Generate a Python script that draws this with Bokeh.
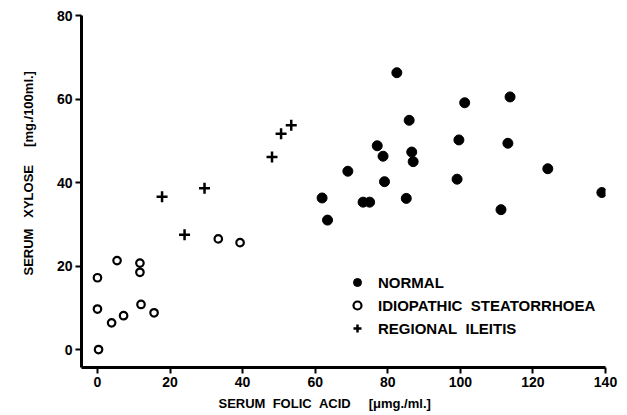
from bokeh.plotting import figure
from bokeh.models import Legend, LegendItem, Range1d, FixedTicker, Title
from bokeh.embed import file_html
from bokeh.resources import INLINE

# Serum folic acid (µmg./ml.) vs serum xylose (mg./100ml.)
normal_x = [82.5, 85.9, 77.1, 78.7, 86.6, 87.0, 69.0, 79.1, 61.9, 73.2, 75.0,
            85.1, 63.4, 101.2, 113.7, 99.6, 113.1, 124.1, 99.1, 139.0, 111.2]
normal_y = [66.3, 54.9, 48.8, 46.3, 47.3, 45.0, 42.7, 40.2, 36.3, 35.3, 35.3,
            36.2, 31.0, 59.1, 60.5, 50.2, 49.4, 43.3, 40.8, 37.6, 33.5]

steat_x = [0.0, 5.4, 11.7, 11.7, 0.0, 3.9, 7.2, 12.0, 15.6, 0.3, 33.3, 39.3]
steat_y = [17.2, 21.3, 20.7, 18.5, 9.7, 6.4, 8.1, 10.8, 8.8, 0.0, 26.5, 25.6]

ileitis_x = [17.8, 29.5, 24.0, 50.6, 53.4, 48.1]
ileitis_y = [36.6, 38.6, 27.5, 51.7, 53.7, 46.1]

x_ticks = [0, 20, 40, 60, 80, 100, 120, 140]
y_ticks = [0, 20, 40, 60, 80]

NB = "\u00a0"
labels = ["NORMAL", "IDIOPATHIC" + NB * 2 + "STEATORRHOEA", "REGIONAL" + NB * 2 + "ILEITIS"]
x_title = "SERUM" + NB * 2 + "FOLIC" + NB * 2 + "ACID" + NB * 5 + "[\u03bcmg./ml.]"
y_title = "SERUM" + NB * 3 + "XYLOSE" + NB * 5 + "[mg./100ml.]"

FONT = "Liberation Sans"

p = figure(width=619, height=415, output_backend="svg", toolbar_location=None,
           x_range=Range1d(-4.4, 140), y_range=Range1d(-4.3, 80),
           min_border_left=81, min_border_right=14, min_border_top=15,
           min_border_bottom=48)
p.outline_line_color = None
p.xgrid.visible = False
p.ygrid.visible = False
p.background_fill_color = "white"

for ax, ticks in ((p.xaxis[0], x_ticks), (p.yaxis[0], y_ticks)):
    ax.ticker = FixedTicker(ticks=ticks)
    ax.axis_line_width = 3
    ax.axis_line_color = "black"
    ax.major_tick_line_width = 2
    ax.major_tick_line_color = "black"
    ax.major_tick_in = 0
    ax.major_tick_out = 6
    ax.minor_tick_line_color = None
    ax.major_label_text_font = FONT
    ax.major_label_text_font_style = "bold"
    ax.major_label_text_font_size = "14px"
    ax.major_label_text_color = "black"
    ax.major_label_standoff = 3

r_norm = p.scatter(normal_x, normal_y, marker="circle", size=10,
                   fill_color="black", line_color="black")
r_steat = p.scatter(steat_x, steat_y, marker="circle", size=7.5,
                    fill_color="white", line_color="black", line_width=2.2)
r_ile = p.scatter(ileitis_x, ileitis_y, marker="cross", size=11,
                  line_color="black", line_width=2.5)

legend = Legend(items=[LegendItem(label=labels[0], renderers=[r_norm]),
                       LegendItem(label=labels[1], renderers=[r_steat]),
                       LegendItem(label=labels[2], renderers=[r_ile])],
                location=(266, 29), padding=0, margin=0, spacing=3,
                glyph_width=20, glyph_height=20, label_height=20,
                label_standoff=11, border_line_color=None,
                background_fill_alpha=0, label_text_color="black",
                label_text_font=FONT, label_text_font_style="bold",
                label_text_font_size="15px")
p.add_layout(legend, "center")

p.add_layout(Title(text=x_title, align="left", offset=137, standoff=8,
                   text_font=FONT, text_font_style="bold",
                   text_font_size="13px", text_color="black"), "below")
p.add_layout(Title(text=y_title, align="left", offset=92, standoff=35,
                   text_font=FONT, text_font_style="bold",
                   text_font_size="13px", text_color="black"), "left")

open("out.html", "w").write(file_html(p, INLINE))
